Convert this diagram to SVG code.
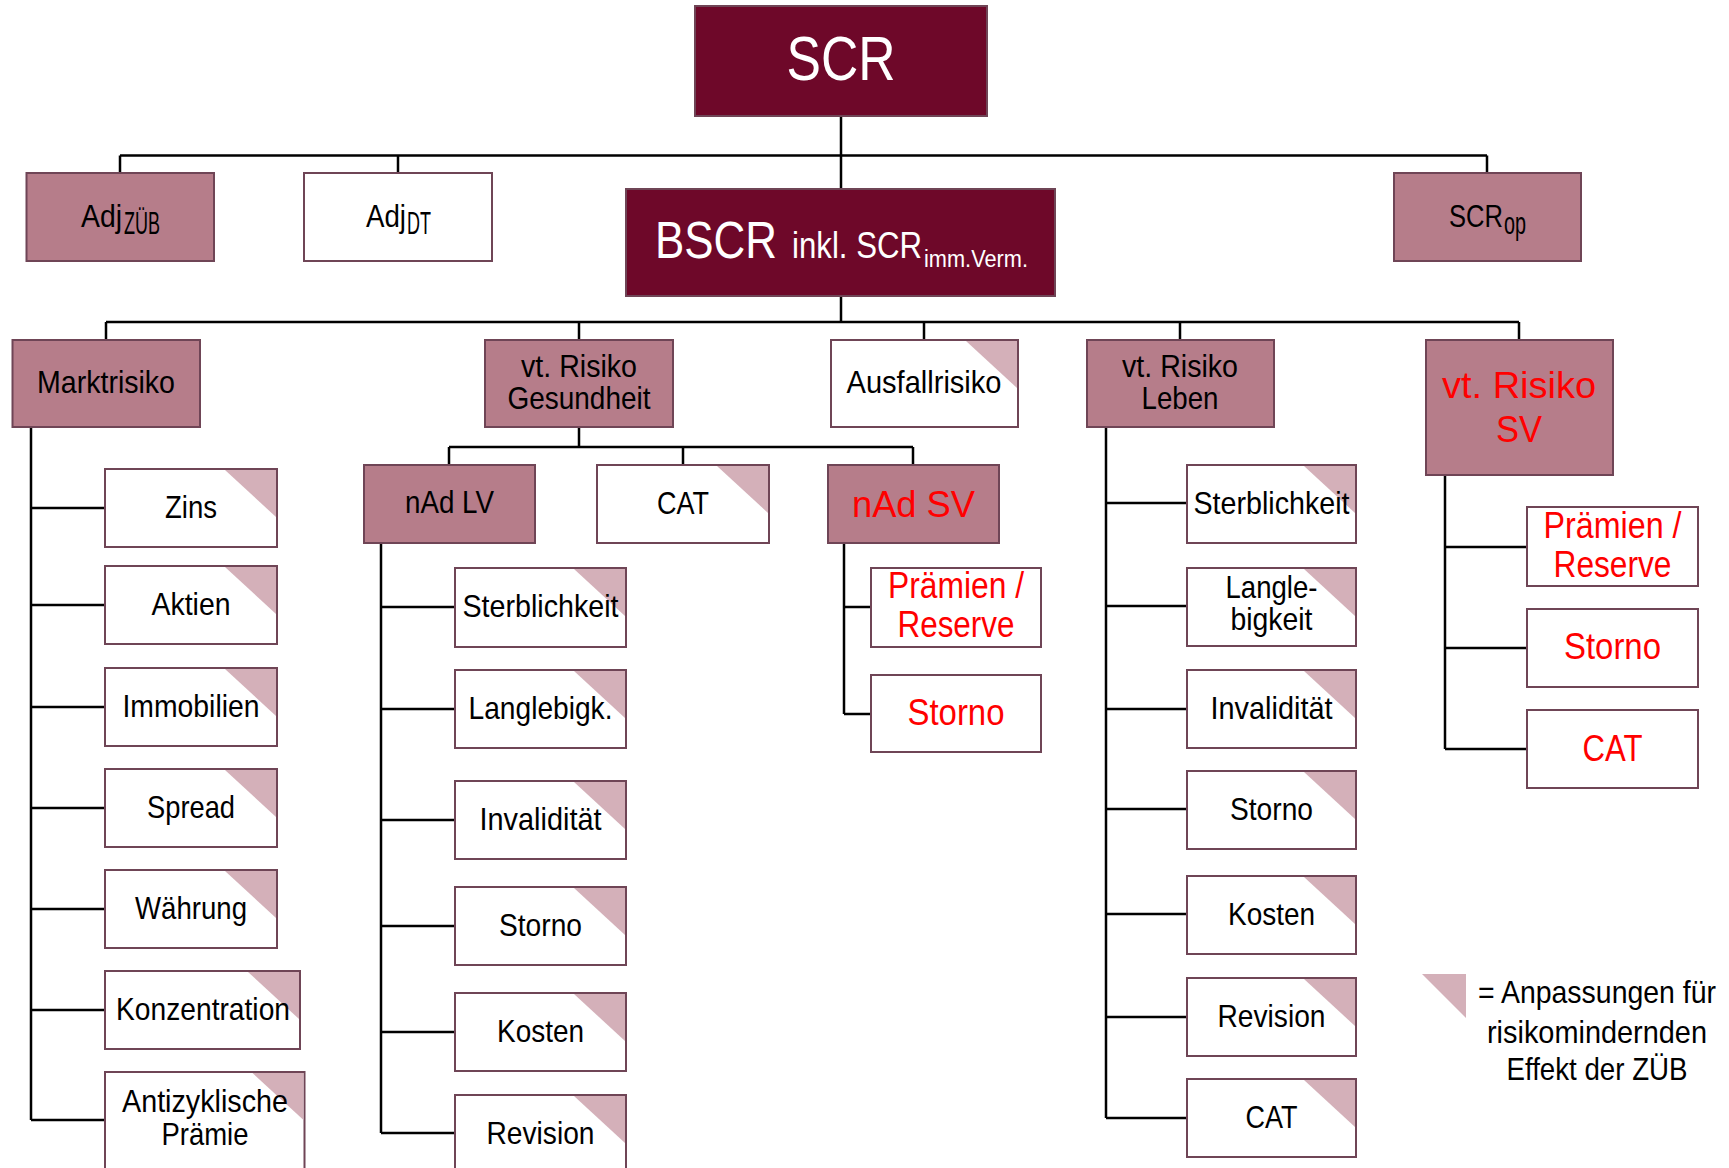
<svg xmlns="http://www.w3.org/2000/svg" width="1729" height="1168" viewBox="0 0 1729 1168">
<style>
text{font-family:"Liberation Sans",Arial,sans-serif;text-anchor:middle}
.s{text-anchor:start}
.m{fill:#b67d8a;stroke:#6f4556;stroke-width:2}
.d{fill:#6e0829;stroke:#6f4556;stroke-width:2}
.w{fill:#fff;stroke:#6f4556;stroke-width:2}
.tri{fill:#d4b0b9}
.t{fill:#000;font-size:32px}
.r{fill:#ff0000;font-size:36px}
.wt{fill:#fff}
.c{fill:none;stroke:#000;stroke-width:2.5}
</style>
<defs>
<path id="tri" class="tri" d="M-52,1 L-1,1 L-1,48 Z"/>
</defs>
<g id="connectors">
<path class="c" d="M841,116 V189 M120,155.5 H1487 M120,155.5 V173 M398,155.5 V173 M1487,155.5 V173 M841,296 V322 M106,322 H1519 M106,322 V340 M579,322 V340 M924,322 V340 M1180,322 V340 M1519,322 V340 M31,427 V1120 M31,508 H105 M31,605 H105 M31,707 H105 M31,808 H105 M31,909 H105 M31,1010 H105 M31,1120 H105 M579,427 V447 M449,447 H913 M449,447 V465 M683,447 V465 M913,447 V465 M381,543 V1133 M381,607 H455 M381,709 H455 M381,820 H455 M381,926 H455 M381,1032 H455 M381,1133 H455 M844,543 V714 M844,607 H871 M844,714 H871 M1106,427 V1118 M1106,503 H1187 M1106,606 H1187 M1106,709 H1187 M1106,809 H1187 M1106,914 H1187 M1106,1017 H1187 M1106,1118 H1187 M1445,475 V749 M1445,547 H1527 M1445,648 H1527 M1445,749 H1527"/>
</g>
<g id="scr"><rect class="d" x="695" y="6" width="292" height="110"/><text class="wt" x="841" y="80" font-size="63" textLength="109" lengthAdjust="spacingAndGlyphs">SCR</text></g>
<g id="adj-zueb"><rect class="m" x="26.5" y="173" width="187.5" height="88"/><text class="t s" x="81" y="227" font-size="31" textLength="41" lengthAdjust="spacingAndGlyphs">Adj</text><text class="t s" x="124" y="234" font-size="20" textLength="36" lengthAdjust="spacingAndGlyphs">ZÜB</text></g>
<g id="adj-dt"><rect class="w" x="304" y="173" width="188" height="88"/><text class="t s" x="366" y="227" font-size="31" textLength="40" lengthAdjust="spacingAndGlyphs">Adj</text><text class="t s" x="407" y="234" font-size="20" textLength="24" lengthAdjust="spacingAndGlyphs">DT</text></g>
<g id="scr-op"><rect class="m" x="1394" y="173" width="187" height="88"/><text class="t s" x="1449" y="227" font-size="31" textLength="54" lengthAdjust="spacingAndGlyphs">SCR</text><text class="t s" x="1504" y="234" font-size="20" textLength="22" lengthAdjust="spacingAndGlyphs">op</text></g>
<g id="bscr"><rect class="d" x="626" y="189" width="429" height="107"/><text class="wt s" x="655" y="258" font-size="52" textLength="122" lengthAdjust="spacingAndGlyphs">BSCR</text><text class="wt s" x="792" y="258" font-size="36" textLength="130" lengthAdjust="spacingAndGlyphs">inkl. SCR</text><text class="wt s" x="924" y="267" font-size="23" textLength="104" lengthAdjust="spacingAndGlyphs">imm.Verm.</text></g>
<g id="marktrisiko"><rect class="m" x="12.5" y="340" width="187.5" height="87"/><text class="t" x="106" y="393" textLength="138" lengthAdjust="spacingAndGlyphs">Marktrisiko</text></g>
<g id="vt-gesundheit"><rect class="m" x="485" y="340" width="188" height="87"/><text class="t" x="579" y="377" textLength="116" lengthAdjust="spacingAndGlyphs">vt. Risiko</text><text class="t" x="579" y="409" textLength="143" lengthAdjust="spacingAndGlyphs">Gesundheit</text></g>
<g id="ausfallrisiko"><rect class="w" x="831" y="340" width="187" height="87"/><use href="#tri" x="1018" y="340"/><text class="t" x="924" y="393" textLength="155" lengthAdjust="spacingAndGlyphs">Ausfallrisiko</text></g>
<g id="vt-leben"><rect class="m" x="1087" y="340" width="187" height="87"/><text class="t" x="1180" y="377" textLength="116" lengthAdjust="spacingAndGlyphs">vt. Risiko</text><text class="t" x="1180" y="409" textLength="77" lengthAdjust="spacingAndGlyphs">Leben</text></g>
<g id="vt-sv"><rect class="m" x="1426" y="340" width="187" height="135"/><text class="r" x="1519" y="398" font-size="43" textLength="154" lengthAdjust="spacingAndGlyphs">vt. Risiko</text><text class="r" x="1519" y="442" font-size="43" textLength="46" lengthAdjust="spacingAndGlyphs">SV</text></g>
<g id="zins"><rect class="w" x="105" y="469" width="172" height="78"/><use href="#tri" x="277" y="469"/><text class="t" x="191" y="518" textLength="52" lengthAdjust="spacingAndGlyphs">Zins</text></g>
<g id="aktien"><rect class="w" x="105" y="566" width="172" height="78"/><use href="#tri" x="277" y="566"/><text class="t" x="191" y="615" textLength="79" lengthAdjust="spacingAndGlyphs">Aktien</text></g>
<g id="immobilien"><rect class="w" x="105" y="668" width="172" height="78"/><use href="#tri" x="277" y="668"/><text class="t" x="191" y="717" textLength="137" lengthAdjust="spacingAndGlyphs">Immobilien</text></g>
<g id="spread"><rect class="w" x="105" y="769" width="172" height="78"/><use href="#tri" x="277" y="769"/><text class="t" x="191" y="818" textLength="88" lengthAdjust="spacingAndGlyphs">Spread</text></g>
<g id="waehrung"><rect class="w" x="105" y="870" width="172" height="78"/><use href="#tri" x="277" y="870"/><text class="t" x="191" y="919" textLength="112" lengthAdjust="spacingAndGlyphs">Währung</text></g>
<g id="konzentration"><rect class="w" x="105" y="971" width="195" height="78"/><use href="#tri" x="300" y="971"/><text class="t" x="203" y="1020" textLength="174" lengthAdjust="spacingAndGlyphs">Konzentration</text></g>
<g id="antizyklisch"><rect class="w" x="105" y="1072" width="199.5" height="100"/><use href="#tri" x="304.5" y="1072"/><text class="t" x="205" y="1112" textLength="166" lengthAdjust="spacingAndGlyphs">Antizyklische</text><text class="t" x="205" y="1145" textLength="87" lengthAdjust="spacingAndGlyphs">Prämie</text></g>
<g id="nad-lv"><rect class="m" x="364" y="465" width="171" height="78"/><text class="t" x="449.5" y="513" textLength="89" lengthAdjust="spacingAndGlyphs">nAd LV</text></g>
<g id="cat-g"><rect class="w" x="597" y="465" width="172" height="78"/><use href="#tri" x="769" y="465"/><text class="t" x="683" y="514" textLength="52" lengthAdjust="spacingAndGlyphs">CAT</text></g>
<g id="nad-sv"><rect class="m" x="828" y="465" width="171" height="78"/><text class="r" x="913.5" y="517" font-size="43" textLength="123" lengthAdjust="spacingAndGlyphs">nAd SV</text></g>
<g id="lv-sterb"><rect class="w" x="455" y="568" width="171" height="79"/><use href="#tri" x="626" y="568"/><text class="t" x="540.5" y="617" textLength="156" lengthAdjust="spacingAndGlyphs">Sterblichkeit</text></g>
<g id="lv-langl"><rect class="w" x="455" y="670" width="171" height="78"/><use href="#tri" x="626" y="670"/><text class="t" x="540.5" y="719" textLength="144" lengthAdjust="spacingAndGlyphs">Langlebigk.</text></g>
<g id="lv-inval"><rect class="w" x="455" y="781" width="171" height="78"/><use href="#tri" x="626" y="781"/><text class="t" x="540.5" y="830" textLength="122" lengthAdjust="spacingAndGlyphs">Invalidität</text></g>
<g id="lv-storno"><rect class="w" x="455" y="887" width="171" height="78"/><use href="#tri" x="626" y="887"/><text class="t" x="540.5" y="936" textLength="83" lengthAdjust="spacingAndGlyphs">Storno</text></g>
<g id="lv-kosten"><rect class="w" x="455" y="993" width="171" height="78"/><use href="#tri" x="626" y="993"/><text class="t" x="540.5" y="1042" textLength="87" lengthAdjust="spacingAndGlyphs">Kosten</text></g>
<g id="lv-revision"><rect class="w" x="455" y="1095" width="171" height="80"/><use href="#tri" x="626" y="1095"/><text class="t" x="540.5" y="1144" textLength="108" lengthAdjust="spacingAndGlyphs">Revision</text></g>
<g id="nsv-praemien"><rect class="w" x="871" y="568" width="170" height="79"/><text class="r" x="956" y="598" font-size="35" textLength="136" lengthAdjust="spacingAndGlyphs">Prämien /</text><text class="r" x="956" y="637" font-size="35" textLength="117" lengthAdjust="spacingAndGlyphs">Reserve</text></g>
<g id="nsv-storno"><rect class="w" x="871" y="675" width="170" height="77"/><text class="r" x="956" y="725" textLength="97" lengthAdjust="spacingAndGlyphs">Storno</text></g>
<g id="l-sterb"><rect class="w" x="1187" y="465" width="169" height="78"/><use href="#tri" x="1356" y="465"/><text class="t" x="1271.5" y="514" textLength="156" lengthAdjust="spacingAndGlyphs">Sterblichkeit</text></g>
<g id="l-langl"><rect class="w" x="1187" y="568" width="169" height="78"/><use href="#tri" x="1356" y="568"/><text class="t" x="1271.5" y="598" textLength="92" lengthAdjust="spacingAndGlyphs">Langle-</text><text class="t" x="1271.5" y="630" textLength="82" lengthAdjust="spacingAndGlyphs">bigkeit</text></g>
<g id="l-inval"><rect class="w" x="1187" y="670" width="169" height="78"/><use href="#tri" x="1356" y="670"/><text class="t" x="1271.5" y="719" textLength="122" lengthAdjust="spacingAndGlyphs">Invalidität</text></g>
<g id="l-storno"><rect class="w" x="1187" y="771" width="169" height="78"/><use href="#tri" x="1356" y="771"/><text class="t" x="1271.5" y="820" textLength="83" lengthAdjust="spacingAndGlyphs">Storno</text></g>
<g id="l-kosten"><rect class="w" x="1187" y="876" width="169" height="78"/><use href="#tri" x="1356" y="876"/><text class="t" x="1271.5" y="925" textLength="87" lengthAdjust="spacingAndGlyphs">Kosten</text></g>
<g id="l-revision"><rect class="w" x="1187" y="978" width="169" height="78"/><use href="#tri" x="1356" y="978"/><text class="t" x="1271.5" y="1027" textLength="108" lengthAdjust="spacingAndGlyphs">Revision</text></g>
<g id="l-cat"><rect class="w" x="1187" y="1079" width="169" height="78"/><use href="#tri" x="1356" y="1079"/><text class="t" x="1271.5" y="1128" textLength="52" lengthAdjust="spacingAndGlyphs">CAT</text></g>
<g id="sv-praemien"><rect class="w" x="1527" y="507" width="171" height="79"/><text class="r" x="1612.5" y="538" font-size="35" textLength="138" lengthAdjust="spacingAndGlyphs">Prämien /</text><text class="r" x="1612.5" y="577" font-size="35" textLength="118" lengthAdjust="spacingAndGlyphs">Reserve</text></g>
<g id="sv-storno"><rect class="w" x="1527" y="609" width="171" height="78"/><text class="r" x="1612.5" y="659" textLength="97" lengthAdjust="spacingAndGlyphs">Storno</text></g>
<g id="sv-cat"><rect class="w" x="1527" y="710" width="171" height="78"/><text class="r" x="1612.5" y="761" textLength="60" lengthAdjust="spacingAndGlyphs">CAT</text></g>
<g id="legend"><polygon class="tri" points="1422,974 1466,974 1466,1018"/><text class="t" x="1597" y="1003" font-size="28" textLength="238" lengthAdjust="spacingAndGlyphs">= Anpassungen für</text><text class="t" x="1597" y="1043" font-size="28" textLength="220" lengthAdjust="spacingAndGlyphs">risikomindernden</text><text class="t" x="1597" y="1080" font-size="28" textLength="181" lengthAdjust="spacingAndGlyphs">Effekt der ZÜB</text></g>
</svg>
